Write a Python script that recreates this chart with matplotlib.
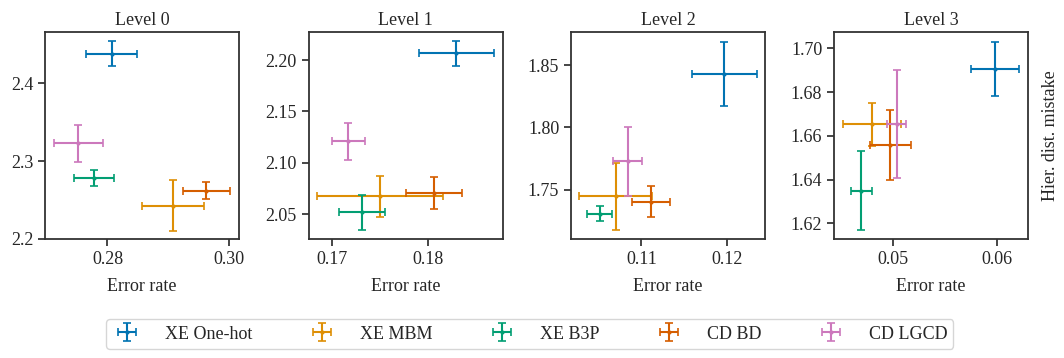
import matplotlib
matplotlib.use("Agg")
import matplotlib.pyplot as plt
import seaborn as sns

# Data (x = error rate, y = hier. dist. mistake)
methods = ["XE One-hot", "XE MBM", "XE B3P", "CD BD", "CD LGCD"]
levels = ["Level 0", "Level 1", "Level 2", "Level 3"]

err_x = [
    [0.2807, 0.2908, 0.2778, 0.2963, 0.2752],
    [0.1829, 0.1750, 0.1731, 0.1806, 0.1717],
    [0.1197, 0.1070, 0.1051, 0.1111, 0.1084],
    [0.0598, 0.0479, 0.0469, 0.0497, 0.0503],
]
err_xerr = [
    [0.0042, 0.0051, 0.0033, 0.0039, 0.0040],
    [0.0039, 0.0065, 0.0024, 0.0029, 0.0017],
    [0.0038, 0.0043, 0.0015, 0.0022, 0.0017],
    [0.0023, 0.0028, 0.0010, 0.0020, 0.0009],
]
mistake_y = [
    [2.438, 2.243, 2.2785, 2.262, 2.323],
    [2.2065, 2.0675, 2.0516, 2.0708, 2.1208],
    [1.843, 1.7446, 1.7307, 1.7404, 1.7728],
    [1.6907, 1.6653, 1.6349, 1.6558, 1.6653],
]
mistake_yerr = [
    [0.016, 0.033, 0.010, 0.011, 0.024],
    [0.012, 0.020, 0.017, 0.0156, 0.0177],
    [0.026, 0.027, 0.0063, 0.0126, 0.0276],
    [0.0123, 0.0098, 0.018, 0.0162, 0.0246],
]

xlims = [(0.2697, 0.3017), (0.1676, 0.1877), (0.10176, 0.12447), (0.04426, 0.0630)]
ylims = [(2.1996, 2.466), (2.0254, 2.2273), (1.710, 1.8768), (1.6127, 1.7075)]
xticks = [[0.28, 0.30], [0.17, 0.18], [0.11, 0.12], [0.05, 0.06]]
yticks = [[2.2, 2.3, 2.4], [2.05, 2.10, 2.15, 2.20], [1.75, 1.80, 1.85],
          [1.62, 1.64, 1.66, 1.68, 1.70]]
yfmt = ["%.1f", "%.2f", "%.2f", "%.2f"]

sns.set_theme(style="ticks")
plt.rcParams['font.family'] = ['Liberation Serif', 'DejaVu Serif']
plt.rcParams['font.size'] = 13
colors = sns.color_palette("colorblind", 5)

fig = plt.figure(figsize=(10.64, 3.58), dpi=100)
lefts = [45, 308.7, 571, 834]
handles = []
for i in range(4):
    ax = fig.add_axes([lefts[i] / 1064, 0.3316, 194 / 1064, 0.579])
    for j, m in enumerate(methods):
        h = ax.errorbar(err_x[i][j], mistake_y[i][j],
                        xerr=err_xerr[i][j], yerr=mistake_yerr[i][j],
                        fmt='.', color=colors[j], markersize=4,
                        elinewidth=1.5, capsize=2.8, capthick=1.2, label=m)
        if i == 0:
            handles.append(h)
    ax.set_xlim(*xlims[i])
    ax.set_ylim(*ylims[i])
    ax.set_xticks(xticks[i])
    ax.set_yticks(yticks[i])
    ax.set_xticklabels(["%.2f" % v for v in xticks[i]])
    ax.set_yticklabels([yfmt[i] % v for v in yticks[i]])
    ax.tick_params(labelsize=13, length=5, width=1.2, color='.15', labelcolor='.15')
    for s in ax.spines.values():
        s.set_linewidth(1.3)
        s.set_color('.2')
    ax.set_title(levels[i], fontsize=13, color='.15', pad=5)
    ax.set_xlabel("Error rate", fontsize=13, color='.15', labelpad=7)
    if i == 3:
        ax.yaxis.set_label_position('right')
        ax.set_ylabel("Hier. dist. mistake", fontsize=13, color='.15', labelpad=10)

fig.legend(handles, methods, loc='center', ncol=5, bbox_to_anchor=(0.498, 0.067),
           fontsize=13, frameon=True, columnspacing=3.05, handlelength=1.6,
           handletextpad=1.3, borderpad=0.35, edgecolor='.8', fancybox=True)

plt.savefig("out.png", dpi=100)
